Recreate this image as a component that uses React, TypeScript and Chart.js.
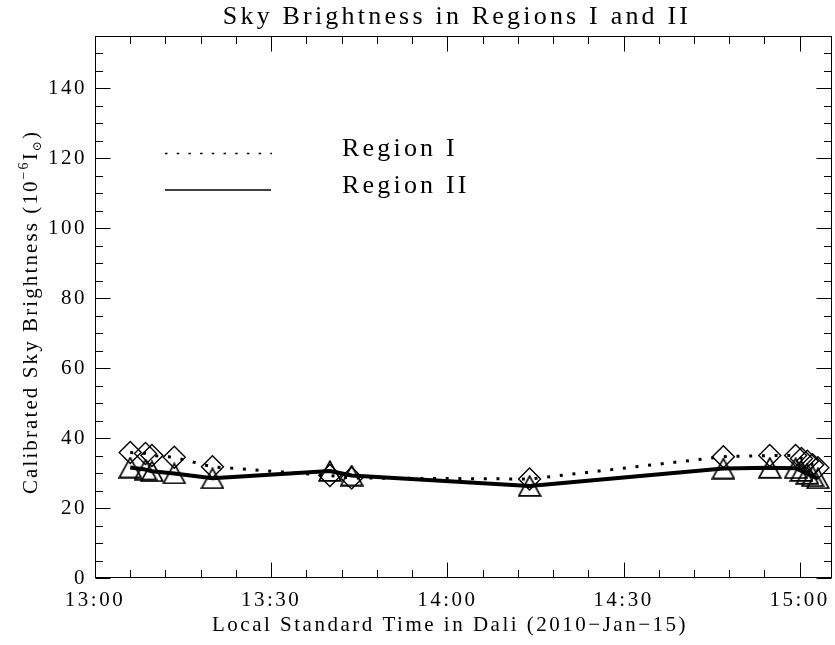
import React, { useEffect, useRef } from 'react';
import { Chart, registerables } from 'chart.js';

Chart.register(...registerables);

// ---- data (minutes after 13:00 local standard time) ----
const timeMinutes = [6.0, 8.6, 9.7, 13.5, 20.0, 40.0, 43.7, 74.0, 107.0, 114.9, 119.3, 120.3, 121.3, 122.2, 123.1];
const regionI = [35.9, 35.6, 35.0, 34.5, 31.8, 29.3, 28.6, 28.3, 34.7, 35.0, 35.0, 34.2, 33.4, 32.4, 31.5];
const regionII = [31.6, 31.0, 30.5, 29.9, 28.5, 30.6, 29.3, 26.3, 31.3, 31.5, 31.4, 30.6, 29.8, 29.1, 28.5];

const xTickValues = [0, 30, 60, 90, 120];
const xTickLabels = ['13:00', '13:30', '14:00', '14:30', '15:00'];
const yTickValues = [0, 20, 40, 60, 80, 100, 120, 140];
const yTickLabels = ['0', '20', '40', '60', '80', '100', '120', '140'];

const seriesNames = ['Region I', 'Region II'];
const chartTitle = 'Sky Brightness in Regions I and II';
const xTitle = 'Local Standard Time in Dali (2010\u2212Jan\u221215)';
const yTitleParts = ['Calibrated Sky Brightness (10', '\u22126', 'I', '\u2299', ')'];

const X_MIN = 0, X_MAX = 125.5, Y_MIN = 0, Y_MAX = 155;

const FONT = '"Liberation Serif", "DejaVu Serif", serif';
const TICK_SIZE = 21;
const TICK_LS = '2.5px';

function makeTriangle(): HTMLCanvasElement {
  const c = document.createElement('canvas');
  c.width = 24;
  c.height = 22;
  const g = c.getContext('2d')!;
  g.strokeStyle = '#000';
  g.lineWidth = 1.7;
  g.lineJoin = 'miter';
  g.beginPath();
  g.moveTo(12, 1.2);
  g.lineTo(22.8, 20.8);
  g.lineTo(1.2, 20.8);
  g.closePath();
  g.stroke();
  return c;
}

const decorPlugin = {
  id: 'decor',
  beforeDraw(chart: any) {
    const ctx = chart.ctx;
    ctx.save();
    ctx.fillStyle = '#fff';
    ctx.fillRect(0, 0, chart.width, chart.height);
    ctx.restore();
    (ctx as any).letterSpacing = TICK_LS;
  },
  afterDraw(chart: any) {
    const ctx = chart.ctx;
    const a = chart.chartArea;
    const xs = chart.scales.x;
    const ys = chart.scales.y;
    ctx.save();
    ctx.strokeStyle = '#000';
    ctx.lineWidth = 1;
    const L = Math.round(a.left) + 0.5, R = Math.round(a.right) - 0.5;
    const T = Math.round(a.top) + 0.5, B = Math.round(a.bottom) - 0.5;
    ctx.strokeRect(L, T, R - L, B - T);
    ctx.beginPath();
    for (let v = X_MIN; v <= X_MAX + 1e-6; v += 6) {
      const px = Math.round(xs.getPixelForValue(v)) + 0.5;
      const len = v % 30 === 0 ? 15 : 7.5;
      ctx.moveTo(px, B); ctx.lineTo(px, B - len);
      ctx.moveTo(px, T); ctx.lineTo(px, T + len);
    }
    for (let v = Y_MIN; v <= Y_MAX + 1e-6; v += 5) {
      const py = Math.round(ys.getPixelForValue(v)) + 0.5;
      const len = v % 20 === 0 ? 15 : 7.5;
      ctx.moveTo(L, py); ctx.lineTo(L + len, py);
      ctx.moveTo(R, py); ctx.lineTo(R - len, py);
    }
    ctx.stroke();

    ctx.fillStyle = '#000';
    ctx.textBaseline = 'alphabetic';

    // title
    ctx.font = `26px ${FONT}`;
    (ctx as any).letterSpacing = '3.2px';
    ctx.textAlign = 'center';
    ctx.fillText(chartTitle, 457, 24);

    // x title
    ctx.font = `${TICK_SIZE}px ${FONT}`;
    (ctx as any).letterSpacing = TICK_LS;
    ctx.fillText(xTitle, 450, 631);

    // y title (rotated, with super/subscript)
    ctx.save();
    ctx.translate(37, 312);
    ctx.rotate(-Math.PI / 2);
    ctx.textAlign = 'left';
    (ctx as any).letterSpacing = '2.1px';
    const segs = [
      { t: yTitleParts[0], s: TICK_SIZE, dy: 0 },
      { t: yTitleParts[1], s: 14, dy: -9 },
      { t: yTitleParts[2], s: TICK_SIZE, dy: 0 },
      { t: yTitleParts[3], s: 12, dy: 4 },
      { t: yTitleParts[4], s: TICK_SIZE, dy: 0 },
    ];
    let total = 0;
    const widths: number[] = [];
    for (const sg of segs) {
      ctx.font = `${sg.s}px ${FONT}`;
      const w = ctx.measureText(sg.t).width;
      widths.push(w);
      total += w;
    }
    let x0 = -total / 2;
    segs.forEach((sg, i) => {
      ctx.font = `${sg.s}px ${FONT}`;
      ctx.fillText(sg.t, x0, sg.dy);
      x0 += widths[i];
    });
    ctx.restore();

    // legend
    ctx.lineWidth = 1.5;
    ctx.setLineDash([2.5, 9.2]);
    ctx.beginPath();
    ctx.moveTo(165, 153.5); ctx.lineTo(272, 153.5);
    ctx.stroke();
    ctx.setLineDash([]);
    ctx.beginPath();
    ctx.moveTo(165, 190); ctx.lineTo(271, 190);
    ctx.stroke();
    ctx.font = `26px ${FONT}`;
    (ctx as any).letterSpacing = '3.2px';
    ctx.textAlign = 'left';
    ctx.fillText(seriesNames[0], 342, 156);
    ctx.fillText(seriesNames[1], 342, 193);
    ctx.restore();
  },
};

export default function App() {
  const ref = useRef<HTMLCanvasElement>(null);
  useEffect(() => {
    const canvas = ref.current!;
    const tri = makeTriangle();
    const chart = new Chart(canvas, {
      type: 'line',
      data: {
        datasets: [
          {
            label: seriesNames[0],
            data: timeMinutes.map((t, i) => ({ x: t, y: regionI[i] })),
            borderColor: '#000',
            borderWidth: 3,
            borderDash: [3, 9.7],
            borderCapStyle: 'butt',
            pointStyle: 'rectRot',
            pointRadius: 11,
            pointBorderWidth: 1.4,
            pointBorderColor: '#000',
            pointBackgroundColor: 'rgba(0,0,0,0)',
            tension: 0,
            order: 2,
          },
          {
            label: seriesNames[1],
            data: timeMinutes.map((t, i) => ({ x: t, y: regionII[i] })),
            borderColor: '#000',
            borderWidth: 4,
            borderJoinStyle: 'round',
            pointStyle: tri as any,
            pointRadius: 11,
            pointBorderColor: '#000',
            pointBackgroundColor: 'rgba(0,0,0,0)',
            tension: 0,
            order: 1,
          },
        ] as any,
      },
      options: {
        responsive: false,
        animation: false,
        devicePixelRatio: 1,
        layout: { autoPadding: false, padding: { left: 0, right: 3, top: 36, bottom: 0 } },
        plugins: {
          legend: { display: false },
          title: { display: false },
          tooltip: { enabled: false },
        },
        events: [],
        scales: {
          x: {
            type: 'linear',
            min: X_MIN,
            max: X_MAX,
            grid: { display: false, drawTicks: false },
            border: { display: false },
            ticks: {
              color: '#000',
              padding: 10,
              maxRotation: 0,
              autoSkip: false,
              includeBounds: false,
              font: { family: FONT, size: TICK_SIZE },
              callback: (v: any) => xTickLabels[xTickValues.indexOf(Number(v))],
            },
            afterBuildTicks: (s: any) => { s.ticks = xTickValues.map((v) => ({ value: v })); },
            afterFit: (s: any) => { s.height = 67; s.paddingLeft = 0; s.paddingRight = 0; },
          },
          y: {
            type: 'linear',
            min: Y_MIN,
            max: Y_MAX,
            grid: { display: false, drawTicks: false },
            border: { display: false },
            ticks: {
              color: '#000',
              padding: 8,
              autoSkip: false,
              includeBounds: false,
              font: { family: FONT, size: TICK_SIZE },
              callback: (v: any) => yTickLabels[yTickValues.indexOf(Number(v))],
            },
            afterBuildTicks: (s: any) => { s.ticks = yTickValues.map((v) => ({ value: v })); },
            afterFit: (s: any) => { s.width = 95; s.paddingTop = 0; s.paddingBottom = 0; },
          },
        },
      } as any,
      plugins: [decorPlugin],
    });
    return () => chart.destroy();
  }, []);
  return (
    <div style={{ position: 'fixed', left: 0, top: 0, width: 835, height: 645, background: '#fff' }}>
      <canvas ref={ref} width={835} height={645} style={{ width: 835, height: 645, display: 'block' }} />
    </div>
  );
}
